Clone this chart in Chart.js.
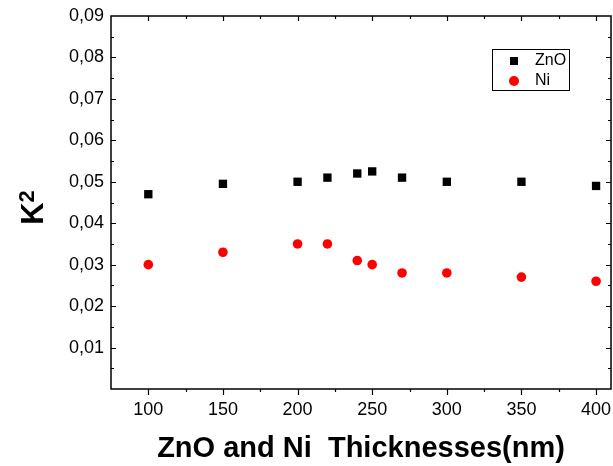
<!DOCTYPE html>
<html>
<head>
<meta charset="utf-8">
<script src="https://cdn.jsdelivr.net/npm/chart.js@4.4.1/dist/chart.umd.min.js"></script>
<style>
  body { margin: 0; background: #fff; }
  canvas { display: block; }
</style>
</head>
<body>
<canvas id="k2Chart" width="613" height="466"></canvas>
<script>
// thickness (nm) and K^2 values
const thickness = [100, 150, 200, 220, 240, 250, 270, 300, 350, 400];
const znoK2 = [0.047, 0.0495, 0.050, 0.051, 0.052, 0.0525, 0.051, 0.050, 0.050, 0.049];
const niK2 = [0.030, 0.033, 0.035, 0.035, 0.031, 0.030, 0.028, 0.028, 0.027, 0.026];
const seriesNames = ['ZnO', 'Ni'];
const xTickLabels = ['100', '150', '200', '250', '300', '350', '400'];
const yTickLabels = ['0,01', '0,02', '0,03', '0,04', '0,05', '0,06', '0,07', '0,08', '0,09'];

const FONT = "'Liberation Sans', Arial, sans-serif";

function pts(ys) {
  return thickness.map((x, i) => ({ x: x, y: ys[i] }));
}

// box frame + inward/outward ticks like Origin
const frameTicks = {
  id: 'frameTicks',
  afterDraw(chart) {
    const { ctx, chartArea: a } = chart;
    const xs = chart.scales.x, ys = chart.scales.y;
    ctx.save();
    ctx.strokeStyle = '#000';
    ctx.lineWidth = 1.5;
    ctx.strokeRect(a.left, a.top, a.right - a.left, a.bottom - a.top);
    ctx.lineWidth = 1.2;
    ctx.beginPath();
    xs.ticks.forEach(t => {
      const v = Math.round(t.value);
      if (v % 25 !== 0 || v <= xs.min || v >= xs.max) return;
      const px = Math.round(xs.getPixelForValue(v)) + 0.5;
      const major = v % 50 === 0;
      ctx.moveTo(px, a.bottom); ctx.lineTo(px, a.bottom + (major ? 6 : 3));
      ctx.moveTo(px, a.top); ctx.lineTo(px, a.top + (major ? 5 : 3));
    });
    ys.ticks.forEach(t => {
      const m = Math.round(t.value * 1000);
      if (m <= 0 || m >= 90) return;
      const py = Math.round(ys.getPixelForValue(m / 1000)) + 0.5;
      const major = m % 10 === 0;
      ctx.moveTo(a.left, py); ctx.lineTo(a.left + (major ? 5 : 3), py);
      ctx.moveTo(a.right, py); ctx.lineTo(a.right - (major ? 5 : 3), py);
    });
    ctx.stroke();
    ctx.restore();
  }
};

// y title K with superscript 2
const yTitle = {
  id: 'yTitle',
  afterDraw(chart) {
    const { ctx, chartArea: a } = chart;
    const cy = (a.top + a.bottom) / 2 + 5;
    ctx.save();
    ctx.translate(43, cy);
    ctx.rotate(-Math.PI / 2);
    ctx.fillStyle = '#000';
    ctx.textBaseline = 'alphabetic';
    ctx.textAlign = 'left';
    ctx.font = 'bold 31px ' + FONT;
    const wK = ctx.measureText('K').width;
    ctx.font = 'bold 22px ' + FONT;
    const w2 = ctx.measureText('2').width;
    const start = -(wK + w2) / 2;
    ctx.font = 'bold 31px ' + FONT;
    ctx.fillText('K', start, 0);
    ctx.font = 'bold 22px ' + FONT;
    ctx.fillText('2', start + wK, -9);
    ctx.restore();
  }
};

// boxed legend in the upper right
const boxLegend = {
  id: 'boxLegend',
  afterDraw(chart) {
    const ctx = chart.ctx;
    ctx.save();
    ctx.strokeStyle = '#000';
    ctx.lineWidth = 1;
    ctx.strokeRect(492.5, 49.5, 77, 41);
    ctx.fillStyle = '#000';
    ctx.fillRect(510, 57, 8, 8);
    ctx.fillStyle = '#ff0000';
    ctx.beginPath();
    ctx.arc(514, 81, 5, 0, Math.PI * 2);
    ctx.fill();
    ctx.fillStyle = '#000';
    ctx.font = '16px ' + FONT;
    ctx.textBaseline = 'middle';
    ctx.fillText(seriesNames[0], 535, 61);
    ctx.fillText(seriesNames[1], 535, 81);
    ctx.restore();
  }
};

const ctx = document.getElementById('k2Chart').getContext('2d');
const chart = new Chart(ctx, {
  type: 'scatter',
  data: {
    datasets: [{
      label: seriesNames[0],
      data: pts(znoK2),
      pointStyle: 'rect',
      pointRadius: 5.9,
      backgroundColor: '#000',
      borderColor: '#000',
      borderWidth: 0
    }, {
      label: seriesNames[1],
      data: pts(niK2),
      pointStyle: 'circle',
      pointRadius: 4.8,
      backgroundColor: '#ff0000',
      borderColor: '#ff0000',
      borderWidth: 0
    }]
  },
  options: {
    responsive: false,
    animation: false,
    layout: { autoPadding: false, padding: { top: 16, right: 2, left: 0, bottom: 0 } },
    plugins: {
      legend: { display: false },
      tooltip: { enabled: false }
    },
    scales: {
      x: {
        type: 'linear',
        min: 75,
        max: 410,
        grid: { display: false, drawTicks: false },
        border: { display: false },
        afterBuildTicks(s) {
          // majors from the labels, minors halfway between
          const vals = [];
          xTickLabels.forEach(l => { const v = Number(l); vals.push(v - 25, v); });
          s.ticks = vals.map(v => ({ value: v }));
        },
        afterFit(s) { s.height = 77; s.paddingLeft = 0; s.paddingRight = 0; },
        ticks: {
          autoSkip: false,
          maxRotation: 0,
          padding: 10,
          color: '#000',
          font: { family: FONT, size: 18 },
          callback(value) {
            const i = xTickLabels.indexOf(String(Math.round(value)));
            return i >= 0 ? xTickLabels[i] : '';
          }
        },
        title: {
          display: true,
          text: 'ZnO and Ni  Thicknesses(nm)',
          color: '#000',
          padding: { top: 0, bottom: 0 },
          font: { family: FONT, size: 29, weight: 'bold' }
        }
      },
      y: {
        type: 'linear',
        min: 0,
        max: 0.09,
        grid: { display: false, drawTicks: false },
        border: { display: false },
        afterFit(s) { s.width = 111; s.paddingTop = 0; s.paddingBottom = 0; },
        ticks: {
          stepSize: 0.005,
          autoSkip: false,
          padding: 7,
          color: '#000',
          font: { family: FONT, size: 18 },
          callback(value) {
            const m = Math.round(value * 1000);
            if (m === 0 || m % 10 !== 0) return '';
            return yTickLabels[m / 10 - 1] || '';
          }
        }
      }
    }
  },
  plugins: [frameTicks, yTitle, boxLegend]
});
</script>
</body>
</html>
